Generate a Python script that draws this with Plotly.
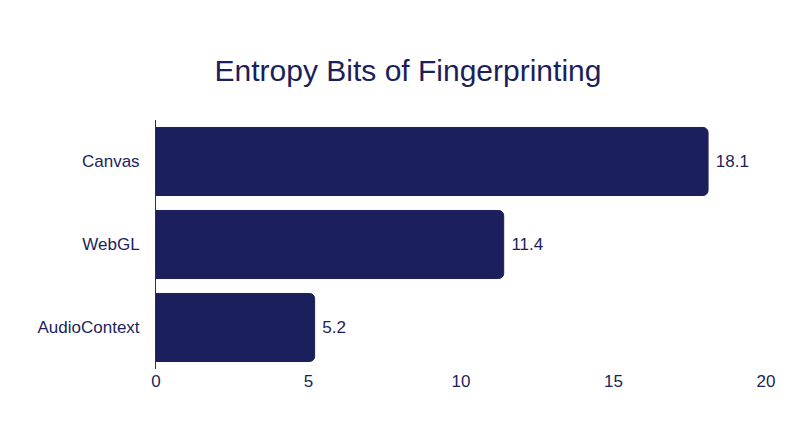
import plotly.graph_objects as go

categories = ["Canvas", "WebGL", "AudioContext"]
values = [18.1, 11.4, 5.2]

color = "#1b1f5b"
fig = go.Figure(go.Bar(
    x=values, y=categories, orientation="h",
    marker=dict(color=color, line=dict(color=color, width=1)),
    text=[f" {v:.1f}" for v in values], textposition="outside",
    textfont=dict(size=17, color=color), cliponaxis=False, width=0.82,
))
fig.update_layout(
    width=800, height=447, barcornerradius=5,
    paper_bgcolor="white", plot_bgcolor="white",
    font=dict(family="Liberation Sans, Arial, sans-serif", color=color, size=17),
    title=dict(text="Entropy Bits of Fingerprinting", x=0.5, xanchor="center", y=0.86, yanchor="middle",
               font=dict(size=30, color=color)),
    margin=dict(l=148, r=42, t=112, b=86),
    showlegend=False,
)
fig.update_xaxes(range=[0, 20], tickvals=[0, 5, 10, 15, 20], showgrid=False, zeroline=False,
                 showline=False, ticks="", tickfont=dict(size=17, color=color))
fig.update_yaxes(autorange="reversed", showgrid=False, showline=True, linecolor="#333", linewidth=1,
                 ticks="", ticklabelstandoff=12, tickfont=dict(size=17, color=color))
fig.write_html("out.html")
